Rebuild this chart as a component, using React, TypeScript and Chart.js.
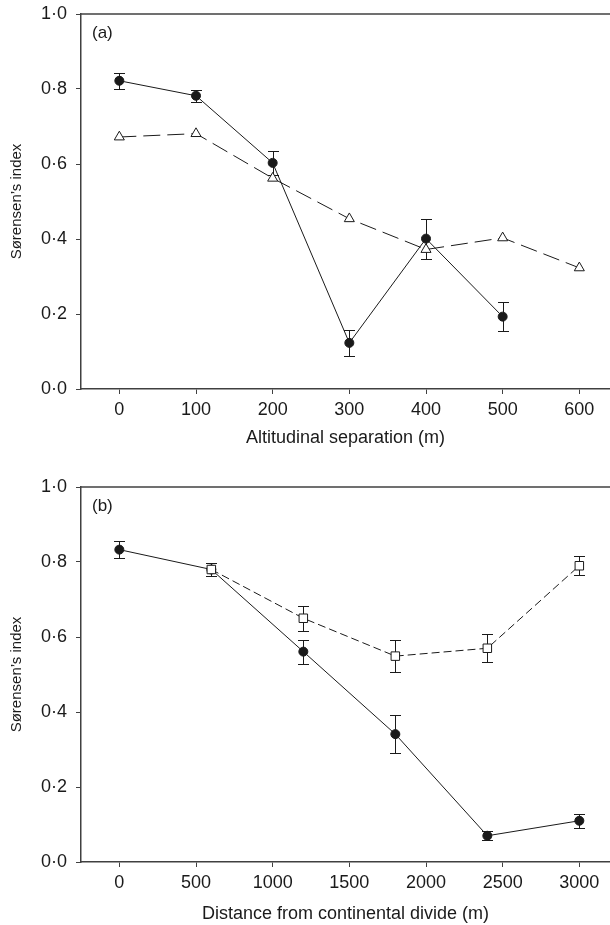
import React, { useEffect, useRef } from 'react';
import { Chart, registerables } from 'chart.js';

Chart.register(...registerables);

// ---------- data ----------
const altitudes = [0, 100, 200, 300, 400, 500, 600];
const altSolid = [0.822, 0.782, 0.603, 0.123, 0.401, 0.193];
const altSolidErr = [0.022, 0.016, 0.033, 0.035, 0.053, 0.039];
const altOpen = [0.672, 0.681, 0.562, 0.454, 0.372, 0.403, 0.323];

const distances = [0, 600, 1200, 1800, 2400, 3000];
const distSolid = [0.833, 0.78, 0.561, 0.341, 0.07, 0.11];
const distSolidErr = [0.023, 0.018, 0.032, 0.051, 0.012, 0.018];
const distOpenX = [600, 1200, 1800, 2400, 3000];
const distOpen = [0.78, 0.65, 0.549, 0.57, 0.79];
const distOpenErr = [0.018, 0.033, 0.043, 0.037, 0.025];

const yTicks = [0, 0.2, 0.4, 0.6, 0.8, 1.0];
const altTicks = [0, 100, 200, 300, 400, 500, 600];
const distTicks = [0, 500, 1000, 1500, 2000, 2500, 3000];

const FONT = '"Liberation Sans", Arial, Helvetica, sans-serif';
const INK = '#1a1a1a';
const AXIS = '#404040';

Chart.defaults.font.family = FONT;

const errorBarPlugin = {
  id: 'errorBars',
  beforeDatasetsDraw(chart: any) {
    const { ctx } = chart;
    const xs = chart.scales.x;
    const ys = chart.scales.y;
    chart.data.datasets.forEach((ds: any) => {
      if (!ds.errors) return;
      ctx.save();
      ctx.strokeStyle = INK;
      ctx.lineWidth = 1;
      ds.data.forEach((p: any, i: number) => {
        const e = ds.errors[i];
        const px = Math.round(xs.getPixelForValue(p.x)) + 0.5;
        const top = Math.round(ys.getPixelForValue(p.y + e)) + 0.5;
        const bot = Math.round(ys.getPixelForValue(p.y - e)) + 0.5;
        ctx.beginPath();
        ctx.moveTo(px, top);
        ctx.lineTo(px, bot);
        ctx.moveTo(px - 5.5, top);
        ctx.lineTo(px + 5.5, top);
        ctx.moveTo(px - 5.5, bot);
        ctx.lineTo(px + 5.5, bot);
        ctx.stroke();
      });
      ctx.restore();
    });
  },
};

const framePlugin = {
  id: 'frame',
  afterDraw(chart: any, _args: any, opts: any) {
    const { ctx, chartArea } = chart;
    const { left, right, top } = chartArea;
    ctx.save();
    ctx.strokeStyle = AXIS;
    ctx.lineWidth = 1.5;
    ctx.beginPath();
    ctx.moveTo(left, top);
    ctx.lineTo(right, top);
    ctx.stroke();
    ctx.fillStyle = INK;
    ctx.font = `17px ${FONT}`;
    ctx.textBaseline = 'middle';
    ctx.textAlign = 'left';
    ctx.fillText(opts.label, left + 11, top + 19);
    ctx.restore();
  },
};

function makeConfig(p: {
  datasets: any[];
  xMin: number;
  xMax: number;
  xTicks: number[];
  xTitle: string;
  label: string;
  padTop: number;
  axisHeight: number;
  titlePadBottom: number;
}) {
  return {
    type: 'line',
    data: { datasets: p.datasets },
    plugins: [errorBarPlugin, framePlugin],
    options: {
      responsive: false,
      animation: false,
      devicePixelRatio: 1,
      layout: { autoPadding: false, padding: { top: p.padTop, right: 0, left: 0, bottom: 0 } },
      plugins: {
        legend: { display: false },
        tooltip: { enabled: false },
        frame: { label: p.label },
      },
      scales: {
        x: {
          type: 'linear',
          min: p.xMin,
          max: p.xMax,
          afterBuildTicks: (s: any) => {
            s.ticks = p.xTicks.map((v) => ({ value: v }));
          },
          afterFit: (s: any) => {
            s.height = p.axisHeight;
            s.paddingLeft = 0;
            s.paddingRight = 0;
          },
          grid: { display: true, drawOnChartArea: false, drawTicks: true, tickLength: 5, color: AXIS, lineWidth: 1 },
          border: { display: true, color: AXIS, width: 1.5 },
          ticks: {
            color: INK,
            font: { size: 18 },
            padding: 5,
            maxRotation: 0,
            autoSkip: false,
            callback: (v: any) => String(v),
          },
          title: {
            display: true,
            text: p.xTitle,
            color: INK,
            font: { size: 18 },
            padding: { top: 0, bottom: p.titlePadBottom },
          },
        },
        y: {
          type: 'linear',
          min: 0,
          max: 1,
          afterBuildTicks: (s: any) => {
            s.ticks = yTicks.map((v) => ({ value: v }));
          },
          afterFit: (s: any) => {
            s.width = 81;
            s.paddingTop = 0;
            s.paddingBottom = 0;
          },
          grid: { display: true, drawOnChartArea: false, drawTicks: true, tickLength: 5, color: AXIS, lineWidth: 1 },
          border: { display: true, color: AXIS, width: 1.5 },
          ticks: {
            color: INK,
            font: { size: 18 },
            padding: 9,
            callback: (v: any) => Number(v).toFixed(1).replace('.', '\u00B7'),
          },
          title: {
            display: true,
            text: 'S\u00F8rensen\u2019s index',
            color: INK,
            font: { size: 15 },
            padding: { top: 8, bottom: 0 },
          },
        },
      },
    },
  };
}

const solidStyle = {
  borderColor: INK,
  borderWidth: 1,
  pointStyle: 'circle',
  pointRadius: 4.5,
  pointBackgroundColor: INK,
  pointBorderColor: INK,
  pointBorderWidth: 1,
  tension: 0,
  fill: false,
};

export default function App() {
  const refA = useRef<HTMLCanvasElement>(null);
  const refB = useRef<HTMLCanvasElement>(null);

  useEffect(() => {
    const dsA = [
      {
        ...solidStyle,
        label: 'solid',
        data: altSolid.map((y, i) => ({ x: altitudes[i], y })),
        errors: altSolidErr,
      },
      {
        label: 'open',
        data: altOpen.map((y, i) => ({ x: altitudes[i], y })),
        borderColor: INK,
        borderWidth: 1,
        borderDash: [17, 7],
        pointStyle: 'triangle',
        pointRadius: 5.8,
        pointBackgroundColor: '#fff',
        pointBorderColor: INK,
        pointBorderWidth: 1,
        tension: 0,
        fill: false,
      },
    ];
    const dsB = [
      {
        label: 'open',
        data: distOpen.map((y, i) => ({ x: distOpenX[i], y })),
        errors: distOpenErr,
        borderColor: INK,
        borderWidth: 1,
        borderDash: [8, 4],
        pointStyle: 'rect',
        pointRadius: 6,
        pointBackgroundColor: '#fff',
        pointBorderColor: INK,
        pointBorderWidth: 1,
        tension: 0,
        fill: false,
      },
      {
        ...solidStyle,
        label: 'solid',
        data: distSolid.map((y, i) => ({ x: distances[i], y })),
        errors: distSolidErr,
      },
    ];

    const a = new Chart(
      refA.current as HTMLCanvasElement,
      makeConfig({
        datasets: dsA,
        xMin: -50,
        xMax: 640,
        xTicks: altTicks,
        xTitle: 'Altitudinal separation (m)',
        label: '(a)',
        padTop: 14,
        axisHeight: 71,
        titlePadBottom: 11.5,
      }) as any
    );
    const b = new Chart(
      refB.current as HTMLCanvasElement,
      makeConfig({
        datasets: dsB,
        xMin: -250,
        xMax: 3200,
        xTicks: distTicks,
        xTitle: 'Distance from continental divide (m)',
        label: '(b)',
        padTop: 27,
        axisHeight: 63,
        titlePadBottom: 0.2,
      }) as any
    );
    return () => {
      a.destroy();
      b.destroy();
    };
  }, []);

  return (
    <div style={{ position: 'absolute', left: 0, top: 0, width: 610, height: 925, background: '#fff', overflow: 'hidden' }}>
      <canvas ref={refA} width={610} height={460} style={{ display: 'block', width: 610, height: 460 }} />
      <canvas ref={refB} width={610} height={465} style={{ display: 'block', width: 610, height: 465 }} />
    </div>
  );
}
